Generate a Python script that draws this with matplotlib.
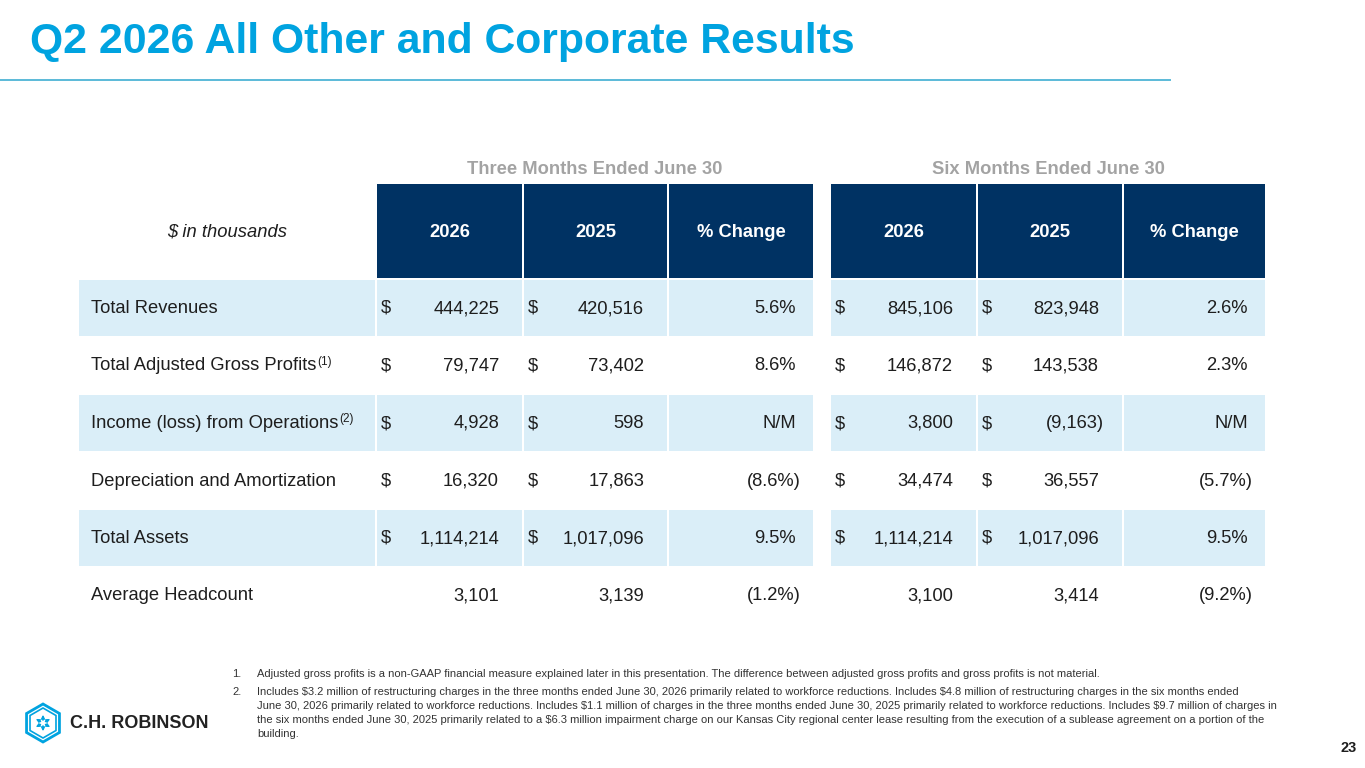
import matplotlib
matplotlib.use("Agg")
import matplotlib.pyplot as plt
from matplotlib.patches import Rectangle, Polygon, FancyArrowPatch

plt.rcParams['font.family'] = ['Liberation Sans', 'DejaVu Sans']
plt.rcParams['text.parse_math'] = False

# --- table data ---
title = 'Q2 2026 All Other and Corporate Results'
group_labels = ['Three Months Ended June 30', 'Six Months Ended June 30']
col_headers = ['2026', '2025', '% Change']
row_labels = ['Total Revenues', 'Total Adjusted Gross Profits', 'Income (loss) from Operations',
              'Depreciation and Amortization', 'Total Assets', 'Average Headcount']
row_notes = ['', '1', '2', '', '', '']
row_dollar = [True, True, True, True, True, False]

three_2026 = [444225, 79747, 4928, 16320, 1114214, 3101]
three_2025 = [420516, 73402, 598, 17863, 1017096, 3139]
three_change = ['5.6%', '8.6%', 'N/M', '(8.6%)', '9.5%', '(1.2%)']
six_2026 = [845106, 146872, 3800, 34474, 1114214, 3100]
six_2025 = [823948, 143538, -9163, 36557, 1017096, 3414]
six_change = ['2.6%', '2.3%', 'N/M', '(5.7%)', '9.5%', '(9.2%)']

footnotes = [
    ('1.', ['Adjusted gross profits is a non-GAAP financial measure explained later in this presentation. '
            'The difference between adjusted gross profits and gross profits is not material.']),
    ('2.', ['Includes $3.2 million of restructuring charges in the three months ended June 30, 2026 primarily '
            'related to workforce reductions. Includes $4.8 million of restructuring charges in the six months ended',
            'June 30, 2026 primarily related to workforce reductions. Includes $1.1 million of charges in the three '
            'months ended June 30, 2025 primarily related to workforce reductions. Includes $9.7 million of charges in',
            'the six months ended June 30, 2025 primarily related to a $6.3 million impairment charge on our Kansas '
            'City regional center lease resulting from the execution of a sublease agreement on a portion of the',
            'building.']),
]

# colours
TITLE_BLUE = '#00A3E0'
NAVY = '#003263'
LIGHT = '#DAEEF8'
TEXT = '#1E1E1E'
GREY = '#A3A3A3'


def fmt_num(v):
    s = f'{abs(v):,}'
    return f'({s})' if v < 0 else s


fig = plt.figure(figsize=(13.65, 7.68), dpi=100)
ax = fig.add_axes([0, 0, 1, 1])
ax.set_xlim(0, 1365)
ax.set_ylim(768, 0)
ax.axis('off')

# title + rule
ax.text(30, 53, title, fontsize=30.8, fontweight='bold', color=TITLE_BLUE, va='baseline', ha='left')
ax.plot([0, 1170], [80, 80], color='#5BBAD8', lw=1.4)

# column geometry (pixels)
label_col = (79, 375)
groups = [[(377, 522), (524, 667), (669, 813)],
          [(831, 976), (978, 1122), (1124, 1265)]]
head_top, head_bot = 184, 278
row_top0, row_step, row_h = 280, 57.5, 55.5
fs = 13.2

# group titles and header cells
for g, cols in enumerate(groups):
    cx = (cols[0][0] + cols[-1][1]) / 2
    ax.text(cx, 174, group_labels[g], fontsize=fs, fontweight='bold', color=GREY, ha='center', va='baseline')
    for (x0, x1), h in zip(cols, col_headers):
        ax.add_patch(Rectangle((x0, head_top), x1 - x0, head_bot - head_top, color=NAVY, lw=0))
        ax.text((x0 + x1) / 2, 237, h, fontsize=fs, fontweight='bold',
                color='white', ha='center', va='baseline')
ax.text(sum(label_col) / 2, 237, '$ in thousands', fontsize=fs,
        style='italic', color=TEXT, ha='center', va='baseline')

renderer = fig.canvas.get_renderer()
values = [(three_2026, three_2025, three_change), (six_2026, six_2025, six_change)]

for i, lab in enumerate(row_labels):
    top = row_top0 + row_step * i
    yb = top + 33
    if i % 2 == 0:
        all_cols = [label_col] + groups[0] + groups[1]
        for x0, x1 in all_cols:
            ax.add_patch(Rectangle((x0, top), x1 - x0, row_h, color=LIGHT, lw=0))
    t = ax.text(label_col[0] + 12, yb, lab, fontsize=fs, color=TEXT, ha='left', va='baseline')
    if row_notes[i]:
        bb = t.get_window_extent(renderer=renderer)
        ax.text(bb.x1 + 1, yb - 6, f'({row_notes[i]})', fontsize=8.5, color=TEXT, ha='left', va='baseline')
    for g, cols in enumerate(groups):
        a, b, ch = values[g]
        for (x0, x1), v in zip(cols[:2], (a[i], b[i])):
            if row_dollar[i]:
                ax.text(x0 + 4, yb, '$', fontsize=fs, color=TEXT, ha='left', va='baseline')
            xr = x1 - 23 + (5 if v < 0 else 0)
            ax.text(xr, yb, fmt_num(v), fontsize=fs, color=TEXT, ha='right', va='baseline')
        x0, x1 = cols[2]
        s = ch[i]
        xr = x1 - 17 + (5 if s.startswith('(') else 0)
        ax.text(xr, yb, s, fontsize=fs, color=TEXT, ha='right', va='baseline')

# footnotes
fy = 674
for num, lines in footnotes:
    ax.text(232, fy, num, fontsize=8.0, color='#333333', ha='left', va='center')
    for ln in lines:
        ax.text(257, fy, ln, fontsize=8.0, color='#333333', ha='left', va='center')
        fy += 14
    fy += 4

# page number
ax.text(1357, 748, '23', fontsize=10.5, fontweight='bold', color=TEXT, ha='right', va='center')

# logo: hexagon mark + wordmark
cx, cy, r = 43, 723, 19
for rr, lw in [(r, 2.0), (r - 4, 1.2)]:
    pts = [(cx + rr * 0.866 * dx, cy + rr * dy) for dx, dy in
           [(0, -1), (1, -0.5), (1, 0.5), (0, 1), (-1, 0.5), (-1, -0.5)]]
    ax.add_patch(Polygon(pts, closed=True, fill=False, edgecolor=TITLE_BLUE, lw=lw))
for dx, dy in [(0, -1), (0, 1), (0.866, 0.5), (-0.866, 0.5), (0.866, -0.5), (-0.866, -0.5)]:
    ax.add_patch(FancyArrowPatch((cx, cy), (cx + 11 * dx, cy + 11 * dy), arrowstyle='-|>',
                                 mutation_scale=5, color=TITLE_BLUE, lw=1.0))
ax.text(70, 723, 'C.H. ROBINSON', fontsize=13.0, fontweight='bold', color='#222222',
        ha='left', va='center')

fig.savefig('out.png', dpi=100)
